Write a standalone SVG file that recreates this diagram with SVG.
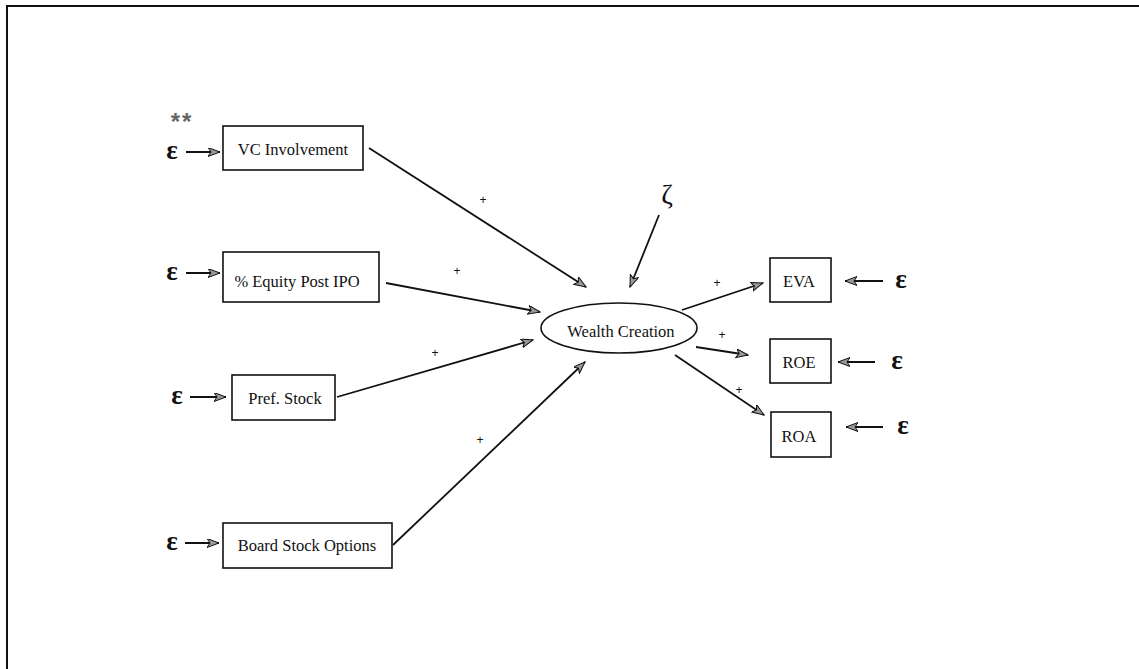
<svg xmlns="http://www.w3.org/2000/svg" width="1139" height="669" viewBox="0 0 1139 669">
<style>
.box{fill:#fff;stroke:#111;stroke-width:1.6}
.lbl{font-family:"Liberation Serif","Times New Roman",serif;font-size:16.5px;fill:#111;text-anchor:middle}
.eps{font-family:"Liberation Serif","Times New Roman",serif;font-size:27px;font-weight:bold;fill:#111;text-anchor:middle}
.plus{font-family:"Liberation Sans",sans-serif;font-size:12px;fill:#111;text-anchor:middle}
.conn line{stroke:#111;stroke-width:1.8;marker-end:url(#ah)}
</style>
<defs>
<marker id="ah" markerUnits="userSpaceOnUse" markerWidth="14" markerHeight="10" refX="12" refY="4.5" orient="auto">
<path d="M0,0 L12,4.5 L0,9 L3,4.5 Z" fill="#999" stroke="#111" stroke-width="1"/>
</marker>
</defs>
<rect width="1139" height="669" fill="#fff"/>
<path d="M7,669 L7,6 L1139,6" fill="none" stroke="#111" stroke-width="2"/>

<g id="vc"><rect class="box" x="223" y="126" width="140" height="44"/><text class="lbl" x="293" y="155">VC Involvement</text></g>
<g id="equity"><rect class="box" x="223" y="252" width="156" height="50"/><text class="lbl" x="297" y="287">% Equity Post IPO</text></g>
<g id="pref"><rect class="box" x="232" y="375" width="103" height="45"/><text class="lbl" x="285" y="404">Pref. Stock</text></g>
<g id="board"><rect class="box" x="223" y="523" width="169" height="45"/><text class="lbl" x="307" y="551">Board Stock Options</text></g>
<g id="wealth"><ellipse class="box" cx="619" cy="328" rx="78" ry="25"/><text class="lbl" x="621" y="337">Wealth Creation</text></g>
<g id="eva"><rect class="box" x="770" y="258" width="61" height="44"/><text class="lbl" x="799" y="287">EVA</text></g>
<g id="roe"><rect class="box" x="770" y="339" width="61" height="44"/><text class="lbl" x="799" y="368">ROE</text></g>
<g id="roa"><rect class="box" x="771" y="412" width="60" height="45"/><text class="lbl" x="799" y="442">ROA</text></g>

<g id="errors">
<text class="eps" x="172" y="159">ε</text>
<text class="eps" x="172" y="280">ε</text>
<text class="eps" x="177" y="404">ε</text>
<text class="eps" x="172" y="550">ε</text>
<text class="eps" x="901" y="288">ε</text>
<text class="eps" x="897" y="369">ε</text>
<text class="eps" x="903" y="434">ε</text>
<text x="667" y="204" style="font-family:'Liberation Serif','DejaVu Serif',serif;font-size:28px;fill:#111;text-anchor:middle">ζ</text>
<text x="182" y="130" style="font-family:'Liberation Sans',sans-serif;font-size:24px;font-weight:bold;letter-spacing:2px;fill:#666;text-anchor:middle">**</text>
</g>

<g id="connectors" class="conn">
<line x1="186" y1="152" x2="220" y2="152"/>
<line x1="186" y1="273" x2="220" y2="273"/>
<line x1="190" y1="397" x2="226" y2="397"/>
<line x1="185" y1="543" x2="219" y2="543"/>
<line x1="369" y1="148" x2="586" y2="287"/>
<line x1="386" y1="283" x2="540" y2="312"/>
<line x1="337" y1="397" x2="533" y2="340"/>
<line x1="393" y1="545" x2="585" y2="362"/>
<line x1="659" y1="215" x2="630" y2="287"/>
<line x1="682" y1="310" x2="763" y2="283"/>
<line x1="696" y1="347" x2="748" y2="355"/>
<line x1="675" y1="355" x2="764" y2="415"/>
<line x1="883" y1="281" x2="845" y2="281"/>
<line x1="875" y1="362" x2="838" y2="362"/>
<line x1="883" y1="427" x2="846" y2="427"/>
</g>

<g id="signs">
<text class="plus" x="483" y="204">+</text>
<text class="plus" x="457" y="275">+</text>
<text class="plus" x="435" y="357">+</text>
<text class="plus" x="480" y="444">+</text>
<text class="plus" x="717" y="287">+</text>
<text class="plus" x="722" y="339">+</text>
<text class="plus" x="739" y="394">+</text>
</g>
</svg>
